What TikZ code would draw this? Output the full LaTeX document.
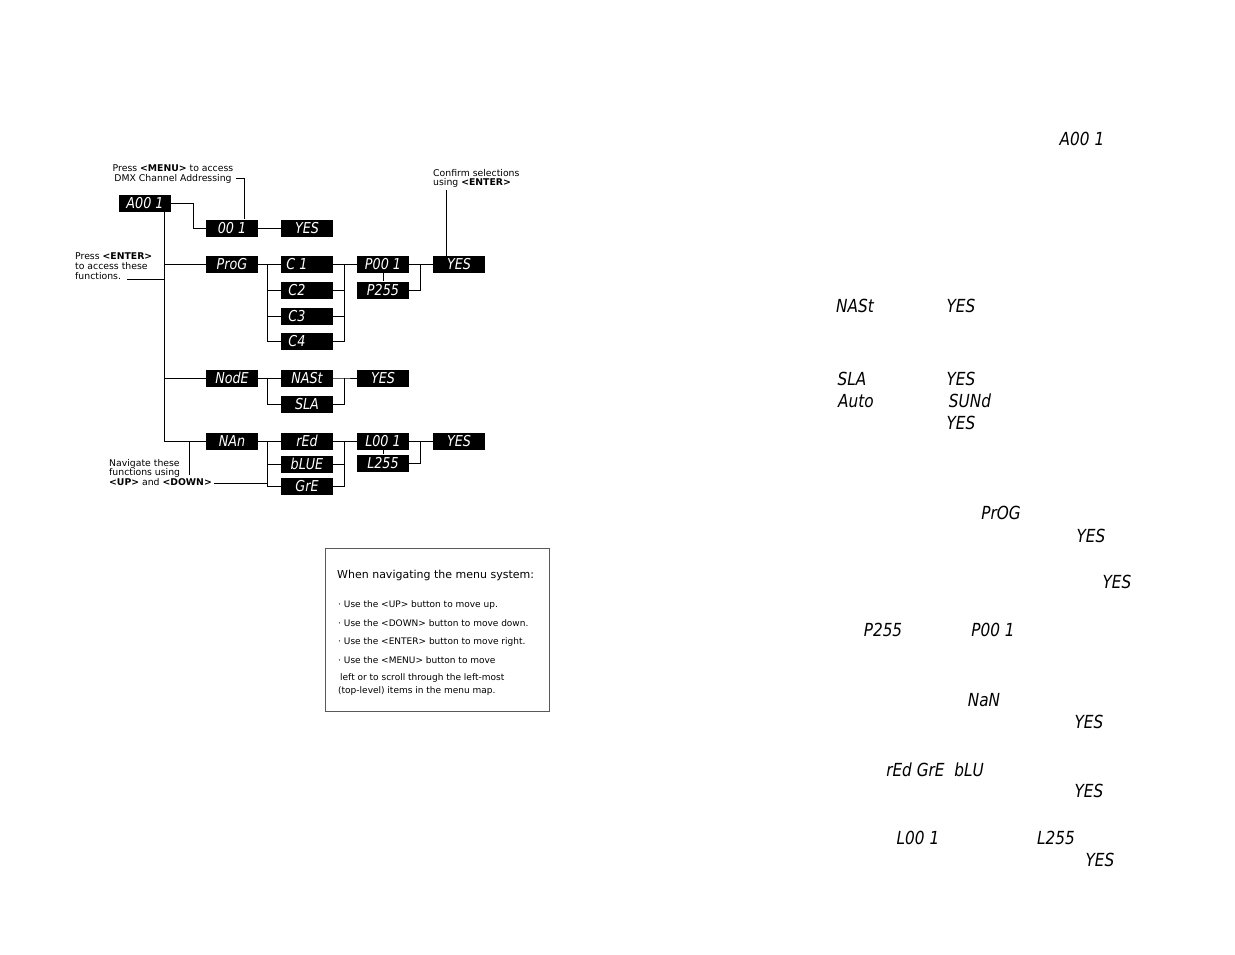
\documentclass[tikz,border=0pt]{standalone}
\usepackage{fontspec}
\setmainfont{DejaVu Sans}
\newfontfamily\ledfont[FakeStretch=0.85]{DejaVu Sans ExtraLight}
\begin{document}
\begin{tikzpicture}[x=1pt,y=-1pt,
  led/.style={fill=black,text=white,minimum width=52pt,minimum height=17pt,inner sep=0pt,font=\ledfont\itshape\fontsize{15}{15}\selectfont},
  ledt/.style={inner sep=0pt,font=\ledfont\itshape\fontsize{18}{18}\selectfont},
  note/.style={font=\fontsize{9.3}{9.6}\selectfont,inner sep=0pt,align=left},
  wire/.style={line width=1pt}]
\useasboundingbox (0,0) rectangle (1235,954);
% boxes
\node[led] (a001) at (145,203) {A00 1};
\node[led] (d001) at (232,228) {00 1};
\node[led] (y1) at (307,228) {YES};
\node[led] (prog) at (232,264) {ProG};
\node[led] (c1) at (307,264) {\hspace{-20pt}C 1};
\node[led] (c2) at (307,290) {\hspace{-20pt}C2};
\node[led] (c3) at (307,316) {\hspace{-20pt}C3};
\node[led] (c4) at (307,341) {\hspace{-20pt}C4};
\node[led] (p001) at (383,264) {P00 1};
\node[led] (p255) at (383,290) {P255};
\node[led] (y2) at (459,264) {YES};
\node[led] (mode) at (232,378) {NodE};
\node[led] (mast) at (307,378) {NASt};
\node[led] (sla) at (307,404) {SLA};
\node[led] (y3) at (383,378) {YES};
\node[led] (man) at (232,441) {NAn};
\node[led] (red) at (307,441) {rEd};
\node[led] (blue) at (307,464) {bLUE};
\node[led] (gre) at (307,486) {GrE};
\node[led] (l001) at (383,441) {L00 1};
\node[led] (l255) at (383,463) {L255};
\node[led] (y4) at (459,441) {YES};
% trunk
\coordinate (t0) at (164,211);
\coordinate (t1) at (164,441);
\draw[wire] (t0) -- (t1);
\draw[wire] (a001.east) -- (193,203) |- (d001.west);
\draw[wire] (d001) -- (y1);
\draw[wire] (164,264) -- (prog.west);
\draw[wire] (164,378) -- (mode.west);
\draw[wire] (t1) -- (man.west);
\draw[wire] (prog.east) -- (c1.west);
\draw[wire] (267,264) |- (c4.west);
\draw[wire] (267,290) -- (c2.west);
\draw[wire] (267,316) -- (c3.west);
\draw[wire] (c1.east) -- (344,264);
\draw[wire] (c2.east) -- (344,290);
\draw[wire] (c3.east) -- (344,316);
\draw[wire] (c4.east) -- (344,341) -- (344,264) -- (p001.west);
\draw[wire] (p001.south) -- (p255.north);
\draw[wire] (p001.east) -- (420,264);
\draw[wire] (p255.east) -| (420,264) -- (y2.west);
\draw[wire] (mode.east) -- (mast.west);
\draw[wire] (267,378) |- (sla.west);
\draw[wire] (mast.east) -- (344,378) -- (y3.west);
\draw[wire] (sla.east) -| (344,378);
\draw[wire] (man.east) -- (red.west);
\draw[wire] (267,441) |- (gre.west);
\draw[wire] (267,464) -- (blue.west);
\draw[wire] (red.east) -- (344,441);
\draw[wire] (blue.east) -- (344,464);
\draw[wire] (gre.east) -| (344,441) -- (l001.west);
\draw[wire] (l001.south) -- (l255.north);
\draw[wire] (l001.east) -- (420,441);
\draw[wire] (l255.east) -| (420,441) -- (y4.west);
% callouts
\node[note,align=center,anchor=north] (menu) at (173,165) {Press \textbf{<MENU>} to access\\DMX Channel Addressing};
\draw[wire] (236,178) -- (244,178) -- (244,219);
\node[note,anchor=north west] (conf) at (433,169) {Confirm selections\\using \textbf{<ENTER>}};
\draw[wire] (446,190) -- (446,256);
\node[note,anchor=north west] (ent) at (75,253) {Press \textbf{<ENTER>}\\to access these\\functions.};
\draw[wire] (127,279) -- (164,279);
\node[note,anchor=north west] (nav) at (109,459) {Navigate these\\functions using\\\textbf{<UP>} and \textbf{<DOWN>}};
\draw[wire] (214,483) -- (267,483);
\draw[wire] (189,441) -- (189,475);
% legend
\draw[line width=0.6pt,gray!70!black] (325,548) rectangle (549,711);
\node[anchor=west,font=\fontsize{11}{11}\selectfont,inner sep=0pt] (lg0) at (337,575) {When navigating the menu system:};
\begin{scope}[every node/.style={anchor=west,font=\fontsize{9}{9}\selectfont,inner sep=0pt}]
\node (lg1) at (338,605) {· Use the <UP> button to move up.};
\node (lg2) at (338,623) {· Use the <DOWN> button to move down.};
\node (lg3) at (338,642) {· Use the <ENTER> button to move right.};
\node (lg4) at (338,660) {· Use the <MENU> button to move};
\node (lg5) at (340,678) {left or to scroll through the left-most};
\node (lg6) at (338,691) {(top-level) items in the menu map.};
\end{scope}
% right-side display texts
\node[ledt] (r1) at (1082,139) {A00 1};
\node[ledt] (r2) at (855,306) {NASt};
\node[ledt] (r3) at (961,306) {YES};
\node[ledt] (r4) at (852,379) {SLA};
\node[ledt] (r5) at (961,379) {YES};
\node[ledt] (r6) at (856,401) {Auto};
\node[ledt] (r7) at (970,401) {SUNd};
\node[ledt] (r8) at (961,423) {YES};
\node[ledt] (r9) at (1001,513) {PrOG};
\node[ledt] (r10) at (1091,536) {YES};
\node[ledt] (r11) at (1117,582) {YES};
\node[ledt] (r12) at (883,630) {P255};
\node[ledt] (r13) at (993,630) {P00 1};
\node[ledt] (r14) at (984,700) {NaN};
\node[ledt] (r15) at (1089,722) {YES};
\node[ledt] (r16) at (935,770) {rEd GrE \ bLU};
\node[ledt] (r17) at (1089,791) {YES};
\node[ledt] (r18) at (918,838) {L00 1};
\node[ledt] (r19) at (1056,838) {L255};
\node[ledt] (r20) at (1100,860) {YES};
\end{tikzpicture}
\end{document}
